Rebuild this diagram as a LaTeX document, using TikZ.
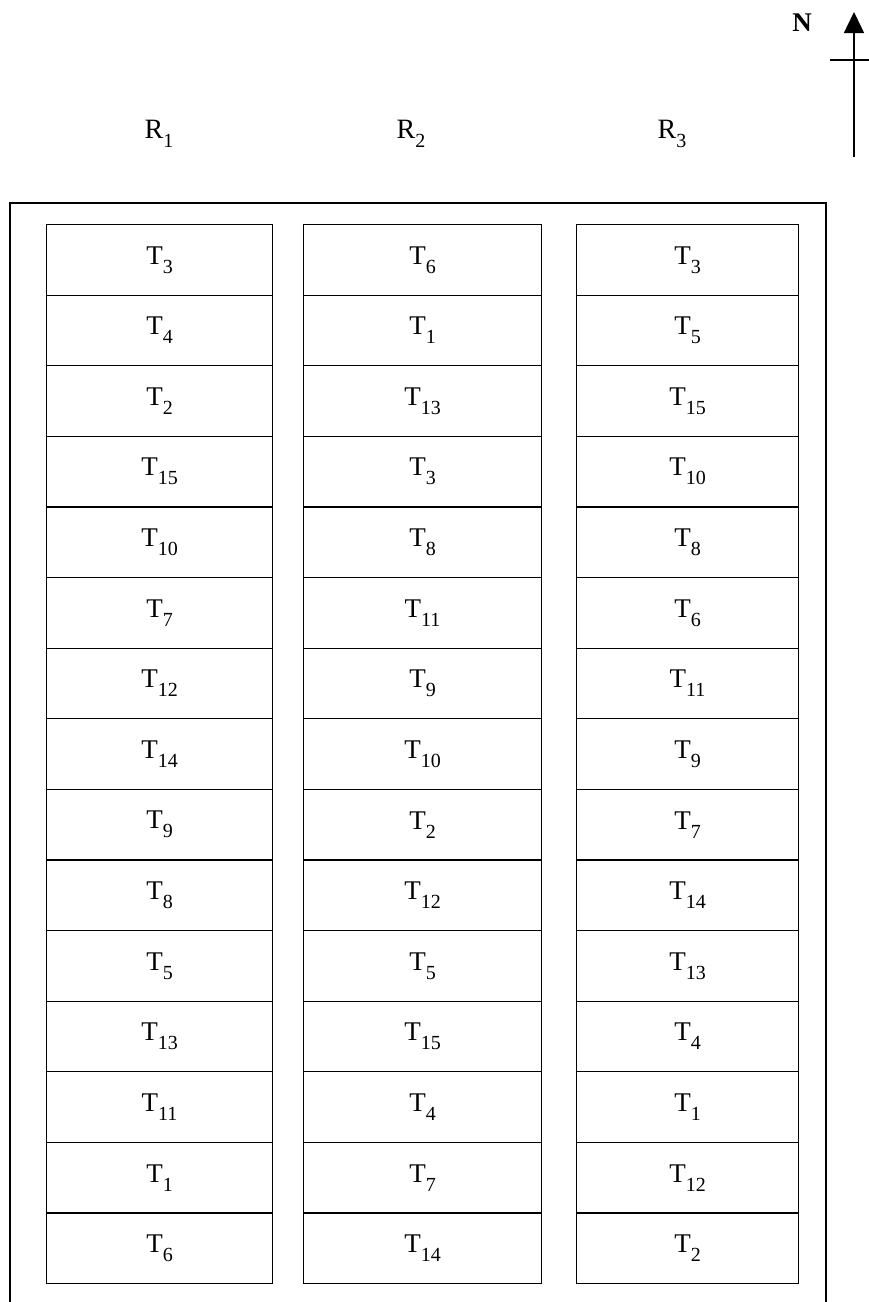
\documentclass[tikz,border=0pt]{standalone}
\usepackage{fontspec}
\setmainfont{Liberation Serif}
\usetikzlibrary{arrows.meta}
\newcommand{\lbl}[2]{#1\raisebox{-0.33em}{\fontsize{20}{22}\selectfont #2}}
\tikzset{
  plotcell/.style={draw, line width=1.2pt, minimum height=70.6pt, inner sep=0pt, anchor=north west, font=\fontsize{27}{30}\selectfont},
  replab/.style={font=\fontsize{28}{31}\selectfont, inner sep=0pt},
  frame/.style={line width=1.9pt},
}
\begin{document}
\begin{tikzpicture}[x=1pt,y=-1pt]
\useasboundingbox (0,0) rectangle (869,1302);
% outer frame (open at the bottom)
\coordinate (fbl) at (10,1302);
\coordinate (ftl) at (10,203);
\coordinate (ftr) at (826,203);
\coordinate (fbr) at (826,1302);
\draw[frame] (fbl) -- (ftl) -- (ftr) -- (fbr);
% replicate labels
\node[replab] (R1) at (159,134) {\lbl{R}{1}};
\node[replab] (R2) at (411,134) {\lbl{R}{2}};
\node[replab] (R3) at (672,134) {\lbl{R}{3}};
% north arrow
\node[font=\fontsize{27}{29}\selectfont\bfseries, inner sep=0pt] (N) at (802,23) {N};
\coordinate (ntip) at (854,12);
\coordinate (nbot) at (854,157);
\coordinate (cbl) at (830,60);
\coordinate (cbr) at (869,60);
\draw[line width=1.4pt, -{Triangle[width=20pt,length=21pt]}] (nbot) -- (ntip);
\draw[line width=1.4pt] (cbl) -- (cbr);
% plots
\foreach \t [count=\i from 0] in {3,4,2,15,10,7,12,14,9,8,5,13,11,1,6}{
  \node[plotcell, minimum width=226pt] (a\i) at (46,224+70.6*\i) {\lbl{T}{\t}};
}
\foreach \t [count=\i from 0] in {6,1,13,3,8,11,9,10,2,12,5,15,4,7,14}{
  \node[plotcell, minimum width=238pt] (b\i) at (303,224+70.6*\i) {\lbl{T}{\t}};
}
\foreach \t [count=\i from 0] in {3,5,15,10,8,6,11,9,7,14,13,4,1,12,2}{
  \node[plotcell, minimum width=222pt] (c\i) at (576,224+70.6*\i) {\lbl{T}{\t}};
}
\end{tikzpicture}
\end{document}
